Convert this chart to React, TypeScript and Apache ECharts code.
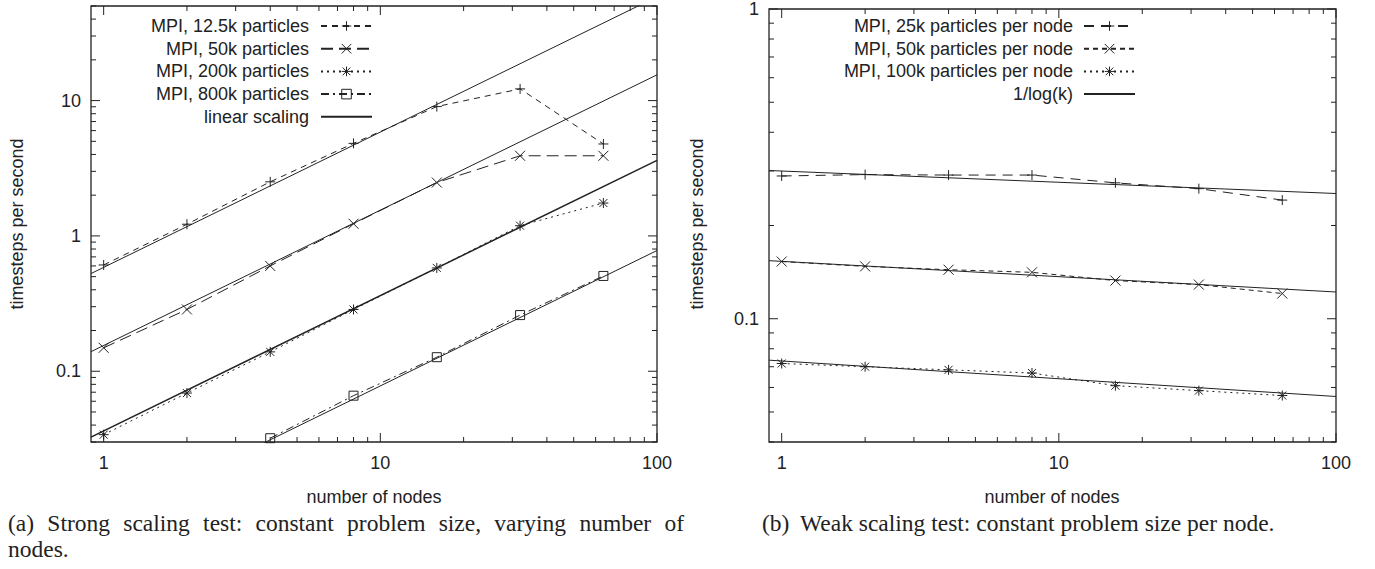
import React, { useEffect, useRef } from "react";
import * as echarts from "echarts";

const SANS = '"Liberation Sans", Arial, Helvetica, sans-serif';
const SERIF = '"Liberation Serif", "Times New Roman", serif';
const INK = "#222";

// ---------- data ----------
const nodes = [1, 2, 4, 8, 16, 32, 64];
const nodes800k = [4, 8, 16, 32, 64];

const strong12k = [0.61, 1.22, 2.51, 4.83, 9.03, 12.2, 4.78];
const strong50k = [0.149, 0.286, 0.6, 1.23, 2.48, 3.91, 3.91];
const strong200k = [0.034, 0.069, 0.139, 0.286, 0.58, 1.19, 1.75];
const strong800k = [0.032, 0.066, 0.127, 0.26, 0.506];

const refX = [0.9, 100];
const linearA = [
  [0.527, 58.5],
  [0.1395, 15.5],
  [0.0326, 3.62],
  [0.007, 0.78],
];

const weak25k = [0.289, 0.292, 0.291, 0.291, 0.2746, 0.263, 0.2416];
const weak50k = [0.153, 0.1476, 0.144, 0.1412, 0.1328, 0.1289, 0.1206];
const weak100k = [0.0717, 0.07, 0.0684, 0.0668, 0.0608, 0.0586, 0.0565];
const logRefB = [
  [0.301, 0.2537],
  [0.154, 0.122],
  [0.0735, 0.0561],
];

const xRange = [0.9, 100];
const yRangeA = [0.03, 50];
const yRangeB = [0.04, 1];
const xMajor = [1, 10, 100];
const xMinor = [2, 3, 4, 5, 6, 7, 8, 9, 20, 30, 40, 50, 60, 70, 80, 90];
const yMajorA = [0.1, 1, 10];
const yMinorA = [0.03, 0.04, 0.05, 0.06, 0.07, 0.08, 0.09, 0.2, 0.3, 0.4, 0.5, 0.6, 0.7, 0.8, 0.9, 2, 3, 4, 5, 6, 7, 8, 9, 20, 30, 40, 50];
const yMajorB = [0.1, 1];
const yMinorB = [0.04, 0.05, 0.06, 0.07, 0.08, 0.09, 0.2, 0.3, 0.4, 0.5, 0.6, 0.7, 0.8, 0.9];

const namesA = ["MPI, 12.5k particles", "MPI, 50k particles", "MPI, 200k particles", "MPI, 800k particles", "linear scaling"];
const namesB = ["MPI, 25k particles per node", "MPI, 50k particles per node", "MPI, 100k particles per node", "1/log(k)"];

const captionA1 = ["(a)", "Strong", "scaling", "test:", "constant", "problem", "size,", "varying", "number", "of"];
const captionA2 = "nodes.";
const captionBLabel = "(b)";
const captionBText = "Weak scaling test: constant problem size per node.";

// ---------- symbols ----------
const SYM_PLUS = "path://M0,5L10,5M5,0L5,10";
const SYM_CROSS = "path://M0,0L10,10M10,0L0,10";
const SYM_STAR = "path://M0,5L10,5M5,0L5,10M1,1L9,9M9,1L1,9";
const SYM_BOX = "path://M0,0L10,0L10,10L0,10Z";

const pair = (xs: number[], ys: number[]) => xs.map((x, i) => [x, ys[i]]);

function dataSeries(name: string, idx: number, xs: number[], ys: number[], symbol: string, dash: any, size = 10) {
  return {
    type: "line",
    name,
    xAxisIndex: idx,
    yAxisIndex: idx,
    data: pair(xs, ys),
    symbol,
    symbolSize: size,
    showSymbol: true,
    itemStyle: { color: "none", borderColor: INK, borderWidth: 1 },
    lineStyle: { color: INK, width: 1, type: dash },
    emphasis: { disabled: true },
    z: 3,
  };
}

function refSeries(name: string, idx: number, ys: number[], width = 1) {
  return {
    type: "line",
    name,
    xAxisIndex: idx,
    yAxisIndex: idx,
    data: pair(refX, ys),
    symbol: "circle",
    showSymbol: false,
    itemStyle: { color: "none", borderColor: "none", borderWidth: 0 },
    lineStyle: { color: INK, width, type: "solid" },
    emphasis: { disabled: true },
    z: 2,
  };
}

function tickData(xMaj: number[], xMin: number[], yMaj: number[], yMin: number[], xr: number[], yr: number[]) {
  const d: number[][] = [];
  xMaj.forEach((v) => d.push([v, yr[0], 1, 1]));
  xMin.forEach((v) => d.push([v, yr[0], 0, 1]));
  yMaj.forEach((v) => d.push([xr[0], v, 1, 0]));
  yMin.forEach((v) => d.push([xr[0], v, 0, 0]));
  return d;
}

function tickSeries(idx: number, data: number[][], xr: number[], yr: number[]) {
  return {
    type: "custom",
    xAxisIndex: idx,
    yAxisIndex: idx,
    silent: true,
    clip: false,
    z: 6,
    data,
    renderItem: (params: any, api: any) => {
      const major = api.value(2) === 1;
      const isX = api.value(3) === 1;
      const len = major ? 9 : 5;
      const style = { stroke: INK, lineWidth: 1 };
      if (isX) {
        const v = api.value(0);
        const b = api.coord([v, yr[0]]);
        const t = api.coord([v, yr[1]]);
        return {
          type: "group",
          children: [
            { type: "line", shape: { x1: b[0], y1: b[1], x2: b[0], y2: b[1] - len }, style },
            { type: "line", shape: { x1: t[0], y1: t[1], x2: t[0], y2: t[1] + len }, style },
          ],
        };
      }
      const v = api.value(1);
      const l = api.coord([xr[0], v]);
      const r = api.coord([xr[1], v]);
      return {
        type: "group",
        children: [
          { type: "line", shape: { x1: l[0], y1: l[1], x2: l[0] + len, y2: l[1] }, style },
          { type: "line", shape: { x1: r[0], y1: r[1], x2: r[0] - len, y2: r[1] }, style },
        ],
      };
    },
  };
}

const pow10Label = (v: number) => {
  const lg = Math.log10(v);
  const e = Math.round(lg);
  if (Math.abs(lg - e) > 1e-6) return "";
  return e >= 0 ? String(Math.pow(10, e)) : Math.pow(10, e).toFixed(-e);
};

const axisLabel = (margin: number) => ({
  formatter: pow10Label,
  margin,
  fontSize: 18,
  fontFamily: SANS,
  color: INK,
});

function xAxisCfg(idx: number) {
  return {
    type: "log",
    gridIndex: idx,
    min: xRange[0],
    max: xRange[1],
    axisLine: { show: false },
    axisTick: { show: false },
    splitLine: { show: false },
    axisLabel: axisLabel(12),
  };
}
function yAxisCfg(idx: number, yr: number[]) {
  return {
    type: "log",
    gridIndex: idx,
    min: yr[0],
    max: yr[1],
    axisLine: { show: false },
    axisTick: { show: false },
    splitLine: { show: false },
    axisLabel: axisLabel(10),
  };
}

function legendCfg(names: string[], solidName: string, right: number, textPad: number) {
  return {
    orient: "vertical",
    right,
    top: 17,
    align: "right",
    padding: 0,
    itemWidth: 51,
    itemHeight: 12,
    itemGap: 4.7,
    selectedMode: false,
    itemStyle: { color: "none", borderColor: INK, borderWidth: 1 },
    textStyle: { fontSize: 18, fontFamily: SANS, color: INK, lineHeight: 18, padding: [0, textPad, 0, 0] },
    data: names.map((n) =>
      n === solidName ? { name: n, itemStyle: { color: "none", borderColor: "none", borderWidth: 0 } } : n
    ),
  };
}

function justifyWords(words: string[], font: string, x0: number, x1: number) {
  const c = document.createElement("canvas").getContext("2d") as CanvasRenderingContext2D;
  c.font = font;
  const w = words.map((s) => c.measureText(s).width);
  const total = w.reduce((a, b) => a + b, 0);
  const gap = (x1 - x0 - total) / (words.length - 1);
  const xs: number[] = [];
  let x = x0;
  w.forEach((wi) => {
    xs.push(x);
    x += wi + gap;
  });
  return xs;
}

export default function App() {
  const ref = useRef<HTMLDivElement>(null);
  useEffect(() => {
    if (!ref.current) return;
    const chart = echarts.init(ref.current, null, { renderer: "svg" });
    const capFont = 23.5;
    const capXs = justifyWords(captionA1, `${capFont}px ${SERIF}`, 8, 684);
    const capStyle = { fontSize: capFont, fontFamily: SERIF, fill: INK, verticalAlign: "middle", align: "left" };
    const titleStyle = { fontSize: 18, fontFamily: SANS, fill: INK, align: "center", verticalAlign: "middle" };

    const graphics: any[] = [
      { type: "text", x: 17, y: 224, rotation: Math.PI / 2, style: { ...titleStyle, text: "timesteps per second" } },
      { type: "text", x: 697, y: 224, rotation: Math.PI / 2, style: { ...titleStyle, text: "timesteps per second" } },
      { type: "text", x: 374, y: 497, style: { ...titleStyle, text: "number of nodes" } },
      { type: "text", x: 1052, y: 497, style: { ...titleStyle, text: "number of nodes" } },
      ...captionA1.map((w, i) => ({ type: "text", x: capXs[i], y: 523, style: { ...capStyle, text: w } })),
      { type: "text", x: 8, y: 549, style: { ...capStyle, text: captionA2 } },
      { type: "text", x: 762, y: 523, style: { ...capStyle, text: captionBLabel } },
      { type: "text", x: 800, y: 523, style: { ...capStyle, text: captionBText } },
    ];

    chart.setOption({
      animation: false,
      backgroundColor: "#fff",
      grid: [
        { left: 91, top: 6, width: 566, height: 436, show: true, borderColor: INK, borderWidth: 1.3, backgroundColor: "transparent" },
        { left: 769, top: 6, width: 567, height: 436, show: true, borderColor: INK, borderWidth: 1.3, backgroundColor: "transparent" },
      ],
      xAxis: [xAxisCfg(0), xAxisCfg(1)],
      yAxis: [yAxisCfg(0, yRangeA), yAxisCfg(1, yRangeB)],
      legend: [legendCfg(namesA, namesA[4], 1375 - 373, 7), legendCfg(namesB, namesB[3], 1375 - 1136, 6)],
      tooltip: { show: false },
      graphic: graphics,
      series: [
        dataSeries(namesA[0], 0, nodes, strong12k, SYM_PLUS, [6, 5]),
        dataSeries(namesA[1], 0, nodes, strong50k, SYM_CROSS, [12, 6]),
        dataSeries(namesA[2], 0, nodes, strong200k, SYM_STAR, [2, 4]),
        dataSeries(namesA[3], 0, nodes800k, strong800k, SYM_BOX, [8, 4, 2, 4], 9),
        refSeries(namesA[4], 0, linearA[0]),
        refSeries(namesA[4], 0, linearA[1]),
        refSeries(namesA[4], 0, linearA[2], 1.5),
        refSeries(namesA[4], 0, linearA[3]),
        dataSeries(namesB[0], 1, nodes, weak25k, SYM_PLUS, [10, 7]),
        dataSeries(namesB[1], 1, nodes, weak50k, SYM_CROSS, [5, 4]),
        dataSeries(namesB[2], 1, nodes, weak100k, SYM_STAR, [2, 4]),
        refSeries(namesB[3], 1, logRefB[0]),
        refSeries(namesB[3], 1, logRefB[1]),
        refSeries(namesB[3], 1, logRefB[2]),
        tickSeries(0, tickData(xMajor, xMinor, yMajorA, yMinorA, xRange, yRangeA), xRange, yRangeA),
        tickSeries(1, tickData(xMajor, xMinor, yMajorB, yMinorB, xRange, yRangeB), xRange, yRangeB),
      ],
    });
    return () => chart.dispose();
  }, []);
  return <div ref={ref} style={{ position: "absolute", left: 0, top: 0, width: 1375, height: 569 }} />;
}
